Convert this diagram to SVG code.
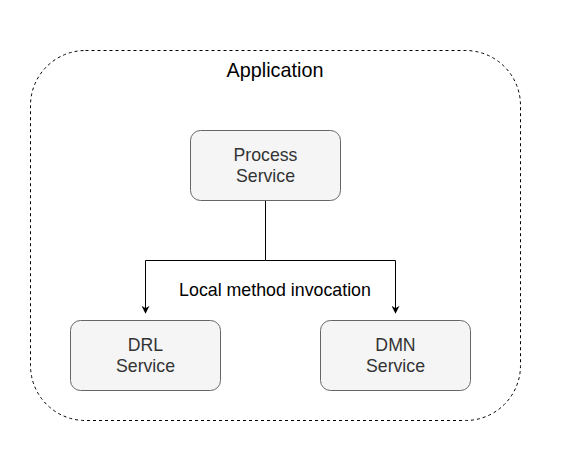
<svg xmlns="http://www.w3.org/2000/svg" width="561" height="461" viewBox="0 0 561 461">
<defs>
<marker id="arr" viewBox="0 0 10 10" refX="9" refY="5" markerWidth="8" markerHeight="8" markerUnits="userSpaceOnUse" orient="auto">
<path d="M0,0 L10,5 L0,10 L3,5 Z" fill="#000"/>
</marker>
<style>
.node rect{fill:#f5f5f5;stroke:#666;stroke-width:1}
.node text{font-family:"Liberation Sans",Arial,sans-serif;font-size:17.7px;fill:#333;text-anchor:middle}
.edge{fill:none;stroke:#000;stroke-width:1}
</style>
</defs>
<rect width="561" height="461" fill="#fff"/>
<g id="application">
<rect x="30.5" y="50.5" width="490" height="370" rx="55" ry="55" fill="none" stroke="#000" stroke-width="1" stroke-dasharray="3,3"/>
<text x="275" y="77" font-family="Liberation Sans,Arial,sans-serif" font-size="19.8" text-anchor="middle" fill="#000">Application</text>
</g>
<g id="connectors">
<path class="edge" d="M265.5,200.5 V260.5 H145.5 V313" marker-end="url(#arr)"/>
<path class="edge" d="M265.5,260.5 H395.5 V313" marker-end="url(#arr)"/>
<text x="275" y="296" font-family="Liberation Sans,Arial,sans-serif" font-size="17.8" text-anchor="middle" fill="#000">Local method invocation</text>
</g>
<g id="process" class="node">
<rect x="190.5" y="130.5" width="150" height="70" rx="10" ry="10"/>
<text x="265.5" y="161">Process</text>
<text x="265.5" y="182">Service</text>
</g>
<g id="drl" class="node">
<rect x="70.5" y="320.5" width="150" height="70" rx="10" ry="10"/>
<text x="145.5" y="351">DRL</text>
<text x="145.5" y="372">Service</text>
</g>
<g id="dmn" class="node">
<rect x="320.5" y="320.5" width="150" height="70" rx="10" ry="10"/>
<text x="395.5" y="351">DMN</text>
<text x="395.5" y="372">Service</text>
</g>
</svg>
